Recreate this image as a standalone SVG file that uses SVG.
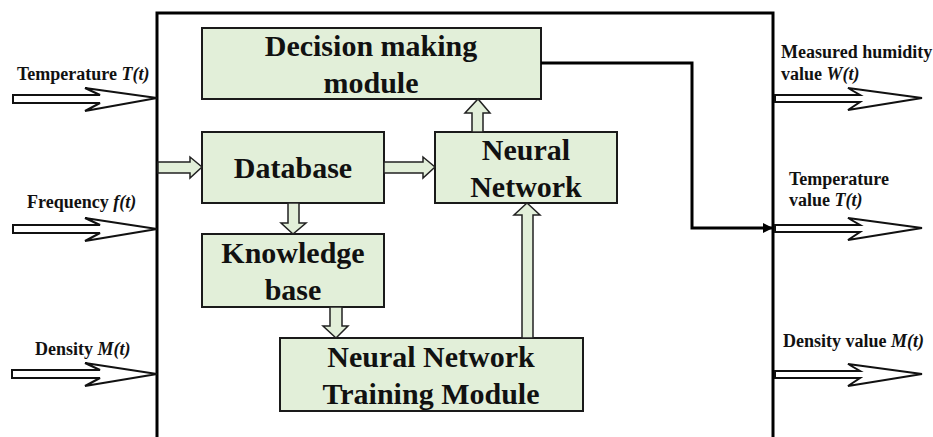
<svg xmlns="http://www.w3.org/2000/svg" width="933" height="437" viewBox="0 0 933 437">
<style>
.node{fill:#e2efd9;stroke:#1a1a1a;stroke-width:2}
.nt{font-family:"Liberation Serif","Times New Roman",serif;font-weight:bold;font-size:30px;fill:#111;text-anchor:middle}
.lab{font-family:"Liberation Serif","Times New Roman",serif;font-weight:bold;font-size:18px;fill:#111}
.io{fill:#fff;stroke:#111;stroke-width:2;stroke-linejoin:miter}
.ga{fill:#e2efd9;stroke:#222;stroke-width:1.5}
</style>
<defs>
<marker id="ah" markerWidth="10" markerHeight="10" refX="10" refY="5" orient="auto" markerUnits="userSpaceOnUse">
<path d="M0,0 L10,5 L0,10 Z" fill="#000"/>
</marker>
</defs>
<rect x="0" y="0" width="933" height="437" fill="#fff"/>
<g id="system">
<rect x="157" y="13" width="616" height="450" fill="none" stroke="#000" stroke-width="3"/>
</g>
<g id="decision">
<rect class="node" x="202" y="28" width="339" height="71"/>
<text class="nt" x="371" y="56">Decision making</text>
<text class="nt" x="371" y="93">module</text>
</g>
<g id="database">
<rect class="node" x="202" y="132" width="182" height="71"/>
<text class="nt" x="293" y="178">Database</text>
</g>
<g id="neural">
<rect class="node" x="435" y="132" width="182" height="71"/>
<text class="nt" x="526" y="160">Neural</text>
<text class="nt" x="526" y="197">Network</text>
</g>
<g id="knowledge">
<rect class="node" x="202" y="234" width="182" height="73"/>
<text class="nt" x="293" y="263">Knowledge</text>
<text class="nt" x="293" y="300">base</text>
</g>
<g id="training">
<rect class="node" x="280" y="338" width="303" height="73"/>
<text class="nt" x="431" y="367">Neural Network</text>
<text class="nt" x="431" y="404">Training Module</text>
</g>
<g id="inputs">
<text class="lab" x="17" y="80">Temperature <tspan font-style="italic">T(t)</tspan></text>
<polygon class="io" points="13,95 100,95 85,88 157,98 85,111 100,103 13,103"/>
<text class="lab" x="27" y="208">Frequency <tspan font-style="italic">f(t)</tspan></text>
<polygon class="io" points="13,225 100,225 85,218 157,229 85,241 100,233 13,233"/>
<text class="lab" x="35" y="355">Density <tspan font-style="italic">M(t)</tspan></text>
<polygon class="io" points="12,370 100,370 85,363 157,374 85,386 100,378 12,378"/>
</g>
<g id="outputs">
<text class="lab" x="781" y="58">Measured humidity</text>
<text class="lab" x="781" y="80">value <tspan font-style="italic">W(t)</tspan></text>
<polygon class="io" points="775,95 860,95 848,88 922,98 848,110 860,102 775,102"/>
<text class="lab" x="789" y="185">Temperature</text>
<text class="lab" x="789" y="206">value <tspan font-style="italic">T(t)</tspan></text>
<polygon class="io" points="775,225 860,225 848,218 922,228 848,240 860,232 775,232"/>
<text class="lab" x="783" y="347">Density value <tspan font-style="italic">M(t)</tspan></text>
<polygon class="io" points="775,371 860,371 848,364 922,374 848,386 860,378 775,378"/>
</g>
<g id="connectors">
<polygon class="ga" points="158,162 190,162 190,157 202,167 190,178 190,173 158,173"/>
<polygon class="ga" points="384,162 423,162 423,157 435,167 423,178 423,173 384,173"/>
<polygon class="ga" points="472,132 472,113 465,113 478,99 490,113 483,113 483,132"/>
<polygon class="ga" points="288,203 288,223 281,223 293,234 306,223 299,223 299,203"/>
<polygon class="ga" points="330,307 330,326 323,326 336,338 348,326 342,326 342,307"/>
<polygon class="ga" points="522,338 522,215 514,215 527,203 540,215 533,215 533,338"/>
<path d="M541,63 H692 V228 H773" fill="none" stroke="#000" stroke-width="3" marker-end="url(#ah)"/>
</g>
</svg>
